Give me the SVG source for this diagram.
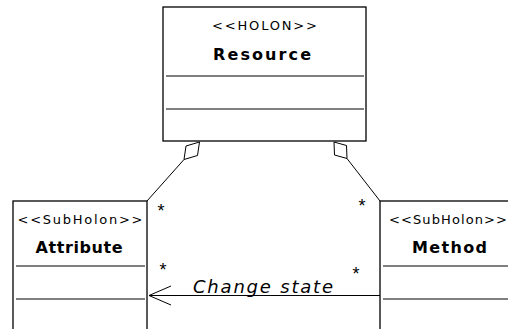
<svg xmlns="http://www.w3.org/2000/svg" width="508" height="329" viewBox="0 0 508 329">
<style>
.box{fill:#fff;stroke:#000;stroke-width:1.3}
.sep{stroke:#000;stroke-width:1}
.st{font-family:"DejaVu Sans",Verdana,sans-serif;font-size:13px;fill:#000;text-anchor:middle}
.nm{font-family:"DejaVu Sans",Verdana,sans-serif;font-size:16px;font-weight:bold;fill:#000;text-anchor:middle}
.ln{stroke:#000;stroke-width:1;fill:none}
.dia{fill:#fff;stroke:#000;stroke-width:1}
.mult{font-family:"Liberation Sans",Arial,sans-serif;font-size:18px;fill:#000;text-anchor:middle}
.lbl{font-family:"DejaVu Sans",Verdana,sans-serif;font-size:18px;font-style:italic;fill:#000}
</style>
<rect width="508" height="329" fill="#fff"/>
<g id="connectors">
  <line class="ln" x1="184" y1="159.5" x2="147" y2="201"/>
  <polygon class="dia" points="199.5,142 197.5,155.5 184,159.5 186,146"/>
  <line class="ln" x1="347" y1="158.5" x2="380" y2="201"/>
  <polygon class="dia" points="334,142 334.5,155 347,158.5 346.5,145.5"/>
  <line class="ln" x1="380" y1="295.5" x2="149" y2="295.5"/>
  <polyline class="ln" points="171,286 149,295.5 171,305"/>
  <text class="lbl" x="193" y="293" textLength="140">Change state</text>
  <text class="mult" x="161" y="217">*</text>
  <text class="mult" x="163" y="276">*</text>
  <text class="mult" x="362" y="212">*</text>
  <text class="mult" x="356" y="280">*</text>
</g>
<g id="resource">
  <rect class="box" x="163" y="7" width="203" height="134"/>
  <line class="sep" x1="166" y1="76" x2="364" y2="76"/>
  <line class="sep" x1="166" y1="109" x2="364" y2="109"/>
  <text class="st" x="264.5" y="30" textLength="105">&lt;&lt;HOLON&gt;&gt;</text>
  <text class="nm" x="262" y="60" textLength="98">Resource</text>
</g>
<g id="attribute">
  <rect class="box" x="13" y="201" width="134" height="140"/>
  <line class="sep" x1="16" y1="266" x2="145" y2="266"/>
  <line class="sep" x1="16" y1="299" x2="145" y2="299"/>
  <text class="st" x="80" y="224" textLength="125">&lt;&lt;SubHolon&gt;&gt;</text>
  <text class="nm" x="79" y="253" textLength="87">Attribute</text>
</g>
<g id="method">
  <rect class="box" x="380" y="201" width="136" height="140"/>
  <line class="sep" x1="383" y1="266" x2="514" y2="266"/>
  <line class="sep" x1="383" y1="299" x2="514" y2="299"/>
  <text class="st" x="448" y="224" textLength="118">&lt;&lt;SubHolon&gt;&gt;</text>
  <text class="nm" x="449.5" y="253" textLength="75">Method</text>
</g>
</svg>
